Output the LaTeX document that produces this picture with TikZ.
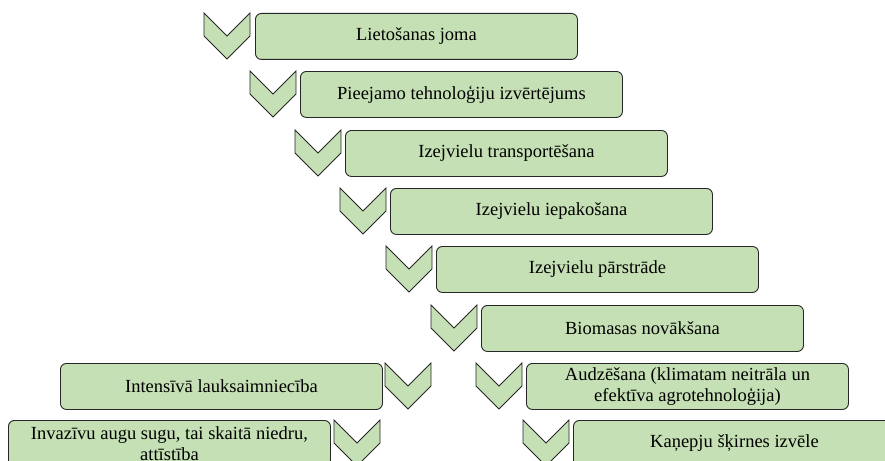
\documentclass[tikz,border=0pt]{standalone}
\usepackage{fontspec}
\setmainfont{Liberation Serif}
\definecolor{boxgreen}{HTML}{C5E0B4}
\definecolor{edgegray}{HTML}{262626}
\begin{document}
\begin{tikzpicture}[x=1pt,y=-1pt,
  stepbox/.style={draw=edgegray, line width=0.9pt, fill=boxgreen, rounded corners=6pt,
    minimum width=322pt, minimum height=46pt, inner sep=2pt, align=center,
    font=\fontsize{18.5}{21}\selectfont, anchor=north west},
  chevs/.style={draw=edgegray, line width=0.9pt, fill=boxgreen, line join=miter},
  chev/.pic={\path[chevs] (0,0) -- (23,23) -- (46,0) -- (46,23) -- (23,46) -- (0,23) -- cycle;}]
\useasboundingbox (0,0) rectangle (885,460);
\clip (0,0) rectangle (885,460);

% descending chain
\node[stepbox] (b1) at (255,13) {Lietošanas joma};
\pic at (204,13) {chev};
\node[stepbox] (b2) at (300,71) {Pieejamo tehnoloģiju izvērtējums};
\pic at (250,71) {chev};
\node[stepbox] (b3) at (345,130) {Izejvielu transportēšana};
\pic at (295,130) {chev};
\node[stepbox] (b4) at (390,188) {Izejvielu iepakošana};
\pic at (340,188) {chev};
\node[stepbox] (b5) at (436,246) {Izejvielu pārstrāde};
\pic at (386,246) {chev};
\node[stepbox] (b6) at (481,305) {Biomasas novākšana};
\pic at (431,305) {chev};

% left branch
\node[stepbox] (l1) at (60,363) {Intensīvā lauksaimniecība};
\pic at (385,363) {chev};
\node[stepbox] (l2) at (8,420) {Invazīvu augu sugu, tai skaitā niedru,\\attīstība};
\pic at (334,420) {chev};

% right branch
\node[stepbox] (r1) at (526,363) {Audzēšana (klimatam neitrāla un\\efektīva agrotehnoloģija)};
\pic at (476,363) {chev};
\node[stepbox] (r2) at (573,420) {Kaņepju šķirnes izvēle};
\pic at (523,420) {chev};
\end{tikzpicture}
\end{document}
